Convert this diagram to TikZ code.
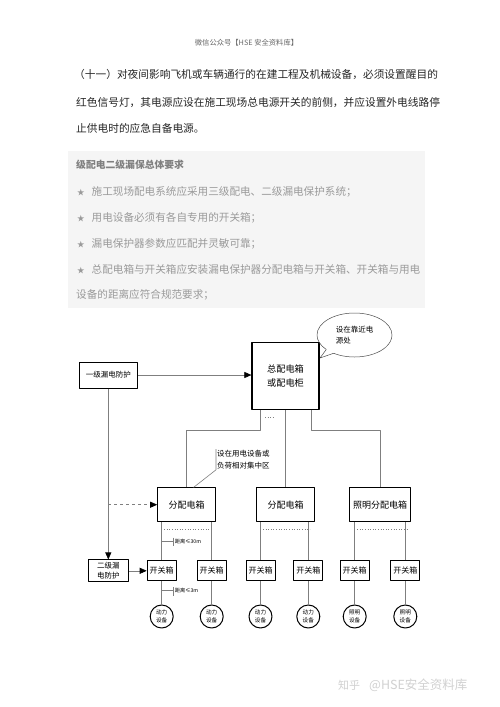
\documentclass[tikz,border=0pt]{standalone}
\usepackage{fontspec}
\setmainfont{Noto Sans CJK SC}
\usetikzlibrary{arrows.meta,shapes.callouts,shapes.geometric}
\definecolor{linegray}{HTML}{7F7F7F}
\definecolor{notegray}{HTML}{9A9A9A}
\definecolor{boxfill}{HTML}{F5F5F5}
\newcommand\reqstar{{\fontsize{7.5}{9}\selectfont ★}\hspace{7pt}}
\tikzset{
  txt/.style={anchor=west, inner sep=0pt, text height=0.88em, text depth=0.12em},
  para/.style={txt, font=\fontsize{10.7}{12}\selectfont, text=black!85},
  req/.style={txt, font=\fontsize{10.6}{12}\selectfont, text=notegray},
  bx/.style={draw, line width=1pt, inner sep=0pt, align=center},
  kg/.style={bx, minimum width=29pt, minimum height=20.3pt, font=\fontsize{8}{9}\selectfont},
  sb/.style={draw, circle, line width=1pt, minimum size=23pt, inner sep=0pt, align=center, font=\fontsize{5.6}{8.5}\selectfont},
  wire/.style={draw=linegray, line width=0.6pt},
  arrowed/.style={-{Triangle[length=7pt,width=6pt,color=black]}},
  dl/.style={anchor=west, inner sep=0pt, font=\fontsize{5.2}{6}\selectfont}
}
\begin{document}
\begin{tikzpicture}[x=1pt, y=-1pt, line join=round]
\useasboundingbox[fill=white] (0,0) rectangle (500,707);
\node[font=\fontsize{7.3}{9}\selectfont, text=black!60] (hdr) at (246.5,42.3) {微信公众号【HSE 安全资料库】};
\node[para] (p1) at (74,75) {（十一）对夜间影响飞机或车辆通行的在建工程及机械设备，必须设置醒目的};
\node[para] (p2) at (76,103) {红色信号灯，其电源应设在施工现场总电源开关的前侧，并应设置外电线路停};
\node[para] (p3) at (76,129) {止供电时的应急自备电源。};
\fill[boxfill] (68,151) rectangle (425,308);
\node[txt, font=\fontsize{9.8}{12}\selectfont\bfseries, text=black!50] (r0) at (76,165) {级配电二级漏保总体要求};
\node[req] (r1) at (77,191.7) {\reqstar 施工现场配电系统应采用三级配电、二级漏电保护系统；};
\node[req] (r2) at (77,217.7) {\reqstar 用电设备必须有各自专用的开关箱；};
\node[req] (r3) at (77,243.3) {\reqstar 漏电保护器参数应匹配并灵敏可靠；};
\node[req] (r4) at (77,269.3) {\reqstar 总配电箱与开关箱应安装漏电保护器分配电箱与开关箱、开关箱与用电};
\node[req] (r5) at (76,295) {设备的距离应符合规范要求；};
\node[bx, minimum width=58pt, minimum height=26pt, font=\fontsize{7.5}{9}\selectfont] (lv1) at (108.3,375) {一级漏电防护};
\node[bx, line width=1.5pt, minimum width=66.7pt, minimum height=67pt, font=\fontsize{9.2}{14}\selectfont] (main) at (285.5,375.8) {总配电箱\\或配电柜};
\node[draw=black!70, line width=0.5pt, ellipse callout, callout absolute pointer={(320,358)}, minimum width=75pt, minimum height=44pt, inner sep=0pt, align=left, font=\fontsize{7.5}{10.6}\selectfont] (note1) at (354.5,335) {设在靠近电\\源处};
\node[bx, minimum width=57.6pt, minimum height=33.5pt, font=\fontsize{9}{10}\selectfont] (dist1) at (186.5,504.7) {分配电箱};
\node[bx, minimum width=57.3pt, minimum height=33.5pt, font=\fontsize{9}{10}\selectfont] (dist2) at (285.5,504.7) {分配电箱};
\node[bx, minimum width=61.4pt, minimum height=33.5pt, font=\fontsize{9}{10}\selectfont] (dist3) at (380,504.7) {照明分配电箱};
\node[anchor=north west, align=left, inner sep=1pt, font=\fontsize{7.5}{11.5}\selectfont] (note2) at (216,449) {设在用电设备或\\负荷相对集中区};
\node[bx, minimum width=40pt, minimum height=21.7pt, font=\fontsize{7.5}{10}\selectfont] (lv2) at (108.3,570.8) {二级漏\\电防护};
\node[kg] (kgA) at (161.7,570.8) {开关箱};
\node[kg] (kgB) at (211.7,570.8) {开关箱};
\node[kg] (kgC) at (260.5,570.8) {开关箱};
\node[kg] (kgD) at (308.3,570.8) {开关箱};
\node[kg] (kgE) at (354.7,570.8) {开关箱};
\node[kg] (kgF) at (405.3,570.8) {开关箱};
\node[sb] (eqA) at (161.7,616.5) {动力\\设备};
\node[sb] (eqB) at (211.7,616.5) {动力\\设备};
\node[sb] (eqC) at (260.5,616.5) {动力\\设备};
\node[sb] (eqD) at (308.3,616.5) {动力\\设备};
\node[sb] (eqE) at (354.7,616.5) {照明\\设备};
\node[sb] (eqF) at (405.3,616.5) {照明\\设备};
\draw[wire, arrowed] (lv1.east) -- (lv1.east -| main.west);
\draw[wire, arrowed] (lv1.south) -- (lv2.north);
\coordinate (tap) at (lv1.south |- dist1.west);
\draw[wire, dashed, arrowed] (tap) -- (dist1.west);
\draw[wire, arrowed] (lv2.east) -- (kgA.west);
\coordinate (mL) at ([xshift=-25.5pt]main.south);
\coordinate (mR) at ([xshift=26.2pt]main.south);
\draw[wire] (mL) -- ++(0,20) -| (dist1.north);
\draw[wire] (main.south) -- (dist2.north);
\draw[wire] (mR) -- ++(0,20) -| (dist3.north);
\draw[wire, dotted] ([xshift=5pt,yshift=-7.5pt]mL) -- ++(8,0);
\draw[wire] (note2.north west) -- (note2.south west) -- ([xshift=7pt]dist1.north);
\foreach \d/\a/\b in {dist1/kgA/kgB, dist2/kgC/kgD, dist3/kgE/kgF} {
  \draw[wire] (\d.south -| \a) -- (\a.north);
  \draw[wire] (\d.south -| \b) -- (\b.north);
  \draw[wire, dotted] ([xshift=2.5pt,yshift=-7pt]\d.south -| \a) -- ([xshift=1.5pt,yshift=-7pt]\d.south -| \b);
}
\foreach \k/\s in {kgA/eqA, kgB/eqB, kgC/eqC, kgD/eqD, kgE/eqE, kgF/eqF}
  \draw[wire] (\k) -- (\s);
\coordinate (d1) at (161.7,541.7);
\coordinate (d2) at (161.7,590.5);
\draw[wire] (d1) -- ++(11.5,0) coordinate (d1e) ++(0,-4) -- ++(0,8.5);
\draw[wire] (d2) -- ++(11.5,0) coordinate (d2e) ++(0,-3.5) -- ++(0,8.5);
\node[dl] (lab1) at ([xshift=1.5pt]d1e) {距离≤30m};
\node[dl] (lab2) at ([xshift=1.5pt]d2e) {距离≤3m};
\node[txt, text=black!18] (wm) at (338,686) {\fontsize{11}{12}\selectfont 知乎\hspace{9pt}\fontsize{12.5}{13}\selectfont @HSE安全资料库};
\end{tikzpicture}
\end{document}
